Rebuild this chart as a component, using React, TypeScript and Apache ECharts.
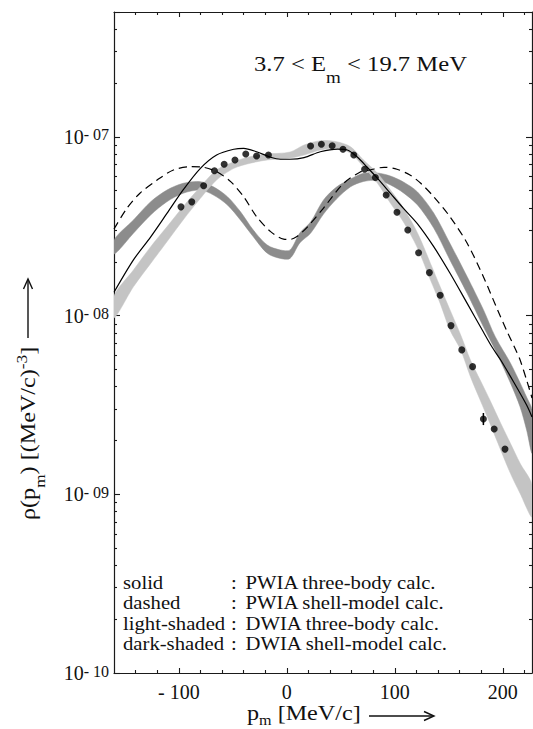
import React, { useEffect, useRef } from "react";
import * as echarts from "echarts";

const FONT = '"Liberation Serif", "Times New Roman", serif';
const INK = "#111111";

// ---- axes ----
const X_MIN = -160;
const X_MAX = 227;
const xMajorTicks = [-100, 0, 100, 200];
const xMinorTicks = [-140, -120, -80, -60, -40, -20, 20, 40, 60, 80, 120, 140, 160, 180, 220];
const Y_MIN = 1e-10;
const Y_MAX = 5e-7;
const yMinorTicks = [
  2e-10, 3e-10, 4e-10, 5e-10, 6e-10, 7e-10, 8e-10, 9e-10,
  2e-9, 3e-9, 4e-9, 5e-9, 6e-9, 7e-9, 8e-9, 9e-9,
  2e-8, 3e-8, 4e-8, 5e-8, 6e-8, 7e-8, 8e-8, 9e-8,
  2e-7, 3e-7, 4e-7,
];

// ---- measured data points ----
const dataX = [-98, -88, -77, -67, -58, -48, -38, -28, -17, 22, 32, 42, 52, 62, 72, 82, 92, 102, 112, 122, 132, 142, 152, 162, 172, 182, 192, 202];
const dataY = [4.06e-8, 4.33e-8, 5.33e-8, 6.47e-8, 7.03e-8, 7.43e-8, 8.02e-8, 7.81e-8, 7.92e-8, 8.89e-8, 9.1e-8, 8.93e-8, 8.53e-8, 7.92e-8, 6.59e-8, 5.92e-8, 4.73e-8, 3.79e-8, 3.01e-8, 2.25e-8, 1.74e-8, 1.3e-8, 8.79e-9, 6.43e-9, 5.18e-9, 2.64e-9, 2.32e-9, 1.79e-9];
const errX = [182];
const errLow = [2.44e-9];
const errHigh = [2.85e-9];

// ---- solid: PWIA three-body ----
const solidX = [-160, -142, -126, -111, -96, -80, -65, -49, -40, -28, -15, -6, 3, 16, 31, 47, 56, 65, 74, 84, 96, 108, 121, 136, 151, 167, 182, 190, 198, 210, 222, 227];
const solidY = [1.35e-8, 2.05e-8, 2.76e-8, 3.73e-8, 5.05e-8, 6.67e-8, 7.92e-8, 8.53e-8, 8.63e-8, 8.26e-8, 7.69e-8, 7.5e-8, 7.5e-8, 7.66e-8, 8.26e-8, 8.55e-8, 8.45e-8, 7.74e-8, 6.81e-8, 5.86e-8, 4.83e-8, 3.98e-8, 3.26e-8, 2.43e-8, 1.73e-8, 1.17e-8, 8.09e-9, 6.67e-9, 5.64e-9, 4.25e-9, 3.16e-9, 2.71e-9];

// ---- dashed: PWIA shell-model ----
const dashedX = [-160, -148, -136, -120, -105, -89, -77, -65, -52, -40, -28, -15, -3, 3, 9, 19, 34, 52, 68, 77, 90, 102, 114, 124, 136, 151, 167, 182, 195, 204, 212, 216, 222, 227];
const dashedY = [3.05e-8, 3.99e-8, 4.84e-8, 5.74e-8, 6.53e-8, 6.81e-8, 6.76e-8, 6.39e-8, 5.62e-8, 4.63e-8, 3.58e-8, 2.95e-8, 2.68e-8, 2.67e-8, 2.76e-8, 3.13e-8, 4.0e-8, 5.45e-8, 6.36e-8, 6.53e-8, 6.76e-8, 6.59e-8, 6.12e-8, 5.5e-8, 4.63e-8, 3.58e-8, 2.54e-8, 1.65e-8, 1.08e-8, 8.13e-9, 6.42e-9, 5.64e-9, 4.36e-9, 3.46e-9];

// ---- light-shaded band: DWIA three-body ----
const lightX = [-160, -142, -126, -111, -96, -80, -65, -49, -34, -18, 3, 16, 31, 46, 59, 71, 84, 96, 108, 121, 133, 142, 151, 161, 170, 179, 188, 198, 207, 216, 227];
const lightLow = [9.7e-9, 1.45e-8, 1.96e-8, 2.59e-8, 3.43e-8, 4.53e-8, 5.74e-8, 6.67e-8, 7.12e-8, 7.43e-8, 7.62e-8, 7.92e-8, 8.45e-8, 8.63e-8, 8.1e-8, 6.81e-8, 5.5e-8, 4.25e-8, 3.34e-8, 2.39e-8, 1.58e-8, 1.17e-8, 8.31e-9, 6.42e-9, 4.55e-9, 3.37e-9, 2.5e-9, 1.77e-9, 1.31e-9, 1.01e-9, 7.46e-10];
const lightHigh = [1.29e-8, 1.8e-8, 2.43e-8, 3.14e-8, 4.07e-8, 5.26e-8, 6.53e-8, 7.26e-8, 7.75e-8, 8.02e-8, 8.23e-8, 9.01e-8, 9.52e-8, 9.4e-8, 8.81e-8, 7.43e-8, 6.26e-8, 5.04e-8, 4.0e-8, 2.9e-8, 1.96e-8, 1.45e-8, 1.08e-8, 7.79e-9, 5.64e-9, 4.36e-9, 3.37e-9, 2.5e-9, 1.93e-9, 1.49e-9, 1.13e-9];

// ---- dark-shaded band: DWIA shell-model ----
const darkX = [-160, -142, -126, -111, -96, -80, -68, -55, -43, -31, -18, -6, 3, 12, 22, 34, 46, 59, 71, 84, 96, 108, 121, 136, 151, 167, 182, 193, 207, 216, 222, 227];
const darkLow = [2.21e-8, 2.89e-8, 3.66e-8, 4.34e-8, 4.84e-8, 5.04e-8, 4.73e-8, 4.16e-8, 3.43e-8, 2.76e-8, 2.23e-8, 2.09e-8, 2.09e-8, 2.55e-8, 2.89e-8, 3.7e-8, 4.49e-8, 5.26e-8, 5.63e-8, 5.7e-8, 5.38e-8, 4.86e-8, 4.16e-8, 3.09e-8, 2.05e-8, 1.33e-8, 8.67e-9, 6.42e-9, 4.2e-9, 3.08e-9, 2.29e-9, 1.7e-9];
const darkHigh = [2.65e-8, 3.43e-8, 4.34e-8, 5.04e-8, 5.5e-8, 5.62e-8, 5.26e-8, 4.63e-8, 3.82e-8, 3.01e-8, 2.48e-8, 2.33e-8, 2.33e-8, 2.9e-8, 3.34e-8, 4.44e-8, 5.24e-8, 5.81e-8, 6.26e-8, 6.28e-8, 6.04e-8, 5.59e-8, 4.92e-8, 3.75e-8, 2.54e-8, 1.65e-8, 1.08e-8, 7.62e-9, 5.43e-9, 4.2e-9, 3.5e-9, 2.96e-9];

// ---- texts ----
const legendKeys = ["solid", "dashed", "light-shaded", "dark-shaded"];
const legendDescs = ["PWIA three-body calc.", "PWIA shell-model calc.", "DWIA three-body calc.", "DWIA shell-model calc."];

const pairs = (xs: number[], ys: number[]) => xs.map((x, i) => [x, ys[i]]);

const lineStyle = { color: "#1a1a1a", width: 1.2 };
const tickStyle = { color: "#1a1a1a", width: 1.1 };

function xAxis(position: string, ticks: number[], len: number, showLine: boolean, labels: boolean) {
  return {
    type: "value",
    min: X_MIN,
    max: X_MAX,
    position,
    axisLine: { show: showLine, onZero: false, lineStyle },
    axisTick: { show: true, inside: true, length: len, customValues: ticks, lineStyle: tickStyle },
    axisLabel: labels
      ? {
          show: true,
          customValues: ticks,
          margin: 9,
          fontFamily: FONT,
          fontSize: 20,
          color: INK,
          formatter: (v: number) => (v < 0 ? `- ${Math.abs(v)}` : `${v}`),
        }
      : { show: false },
    splitLine: { show: false },
  };
}

function yLogAxis(position: string, labels: boolean) {
  return {
    type: "log",
    logBase: 10,
    min: Y_MIN,
    max: Y_MAX,
    position,
    axisLine: { show: true, onZero: false, lineStyle },
    axisTick: { show: true, inside: true, length: 6, lineStyle: tickStyle },
    axisLabel: labels
      ? {
          show: true,
          margin: 5,
          formatter: (v: number) => {
            const e = Math.log10(v);
            const r = Math.round(e);
            if (Math.abs(e - r) > 1e-6 || r > -7) return "";
            return `{b|10}{s|- ${String(-r).padStart(2, "0")}}`;
          },
          rich: {
            b: { fontFamily: FONT, fontSize: 20, lineHeight: 20, color: INK, padding: [7, 0, 7, 0], verticalAlign: "middle" },
            s: { fontFamily: FONT, fontSize: 16, lineHeight: 16, color: INK, verticalAlign: "top" },
          },
        }
      : { show: false },
    splitLine: { show: false },
  };
}

function yMinorAxis(position: string) {
  return {
    type: "value",
    min: Math.log10(Y_MIN),
    max: Math.log10(Y_MAX),
    position,
    axisLine: { show: false, onZero: false },
    axisTick: { show: true, inside: true, length: 3, customValues: yMinorTicks.map((v) => Math.log10(v)), lineStyle: tickStyle },
    axisLabel: { show: false },
    splitLine: { show: false },
  };
}

function band(name: string, xs: number[], lo: number[], hi: number[], color: string) {
  return {
    type: "custom",
    name,
    xAxisIndex: 0,
    yAxisIndex: 0,
    clip: true,
    silent: true,
    data: [[xs[0], lo[0]]],
    renderItem: (_params: any, api: any) => {
      const top = xs.map((x, i) => api.coord([x, hi[i]]));
      const bottom = xs.map((x, i) => api.coord([x, lo[i]])).reverse();
      return {
        type: "polygon",
        shape: { points: top.concat(bottom), smooth: 0.3 },
        style: { fill: color, stroke: color, lineWidth: 0.5 },
      };
    },
  };
}

function txt(x: number, y: number, text: string, size: number, extra: any = {}) {
  return {
    type: "text",
    x,
    y,
    scaleX: 1.15,
    style: {
      text,
      fontFamily: FONT,
      fontSize: size,
      fill: INK,
      align: "left",
      textAlign: "left",
      verticalAlign: "middle",
      textVerticalAlign: "middle",
    },
    ...extra,
  };
}

function buildOption() {
  const legendEls: any[] = [];
  legendKeys.forEach((k, i) => {
    const y = 583 + i * 20.4;
    legendEls.push(txt(123, y, k, 18));
    legendEls.push(txt(231, y, ":", 18));
    legendEls.push(txt(245.5, y, legendDescs[i], 18));
  });

  const subRich = (main: number, sub: number, subPad: number) => ({
    a: { fontFamily: FONT, fontSize: main, lineHeight: main, fill: INK, verticalAlign: "top", padding: [4, 0, 0, 0] },
    s: { fontFamily: FONT, fontSize: sub, lineHeight: sub, fill: INK, verticalAlign: "top", padding: [subPad, 0, 0, 0] },
    u: { fontFamily: FONT, fontSize: sub, lineHeight: sub, fill: INK, verticalAlign: "top" },
  });

  const graphicEls: any[] = [
    {
      type: "text",
      x: 254,
      y: 48,
      scaleX: 1.12,
      style: {
        text: "{a|3.7 < E}{s|m}{a| < 19.7 MeV}",
        rich: subRich(22, 17, 21),
        align: "left",
        textAlign: "left",
        verticalAlign: "top",
        textVerticalAlign: "top",
      },
    },
    ...legendEls,
    {
      type: "text",
      x: 247,
      y: 699,
      scaleX: 1.15,
      style: {
        text: "{a|p}{s|m}{a| [MeV/c]}",
        rich: subRich(21, 14, 14),
        align: "left",
        textAlign: "left",
        verticalAlign: "top",
        textVerticalAlign: "top",
      },
    },
    { type: "line", shape: { x1: 369, y1: 716, x2: 433, y2: 716 }, style: { stroke: INK, lineWidth: 1.4 } },
    { type: "polyline", shape: { points: [[424, 711.5], [434, 716], [424, 720.5]] }, style: { stroke: INK, lineWidth: 1.4, fill: "none" } },
    {
      type: "text",
      x: 14,
      y: 520,
      rotation: Math.PI / 2,
      scaleX: 1.15,
      style: {
        text: "{a|ρ(p}{s|m}{a|) [(MeV/c)}{u|-3}{a|]}",
        rich: subRich(21, 15, 18),
        align: "left",
        textAlign: "left",
        verticalAlign: "top",
        textVerticalAlign: "top",
      },
    },
    { type: "line", shape: { x1: 28, y1: 338, x2: 28, y2: 280 }, style: { stroke: INK, lineWidth: 1.4 } },
    { type: "polyline", shape: { points: [[23.5, 289], [28, 279], [32.5, 289]] }, style: { stroke: INK, lineWidth: 1.4, fill: "none" } },
  ];

  return {
    animation: false,
    backgroundColor: "#ffffff",
    grid: { left: 114, right: 1, top: 12, bottom: 56, containLabel: false, outerBoundsMode: "none" },
    xAxis: [
      xAxis("bottom", xMajorTicks, 5, true, true),
      xAxis("bottom", xMinorTicks, 3, false, false),
      xAxis("top", xMajorTicks, 5, true, false),
      xAxis("top", xMinorTicks, 3, false, false),
    ],
    yAxis: [yLogAxis("left", true), yMinorAxis("left"), yLogAxis("right", false), yMinorAxis("right")],
    graphic: { elements: graphicEls },
    series: [
      band("DWIA shell-model", darkX, darkLow, darkHigh, "#8c8c8c"),
      band("DWIA three-body", lightX, lightLow, lightHigh, "#c4c4c4"),
      {
        type: "line",
        name: "PWIA three-body",
        xAxisIndex: 0,
        yAxisIndex: 0,
        data: pairs(solidX, solidY),
        smooth: 0.3,
        showSymbol: false,
        silent: true,
        lineStyle: { color: "#000", width: 1.2 },
        z: 3,
      },
      {
        type: "line",
        name: "PWIA shell-model",
        xAxisIndex: 0,
        yAxisIndex: 0,
        data: pairs(dashedX, dashedY),
        smooth: 0.3,
        showSymbol: false,
        silent: true,
        lineStyle: { color: "#000", width: 1.2, type: [8, 5] },
        z: 3,
      },
      {
        type: "scatter",
        name: "data",
        xAxisIndex: 0,
        yAxisIndex: 0,
        data: pairs(dataX, dataY),
        symbol: "circle",
        symbolSize: 7,
        silent: true,
        itemStyle: { color: "#000" },
        z: 4,
      },
      {
        type: "custom",
        name: "error",
        xAxisIndex: 0,
        yAxisIndex: 0,
        silent: true,
        data: errX.map((x, i) => [x, errLow[i], errHigh[i]]),
        encode: { x: 0, y: [1, 2] },
        renderItem: (_p: any, api: any) => {
          const a = api.coord([api.value(0), api.value(1)]);
          const b = api.coord([api.value(0), api.value(2)]);
          return { type: "line", shape: { x1: a[0], y1: a[1], x2: b[0], y2: b[1] }, style: { stroke: "#000", lineWidth: 1.5 } };
        },
        z: 4,
      },
    ],
  };
}

export default function App() {
  const ref = useRef<HTMLDivElement>(null);
  useEffect(() => {
    document.body.style.margin = "0";
    const chart = echarts.init(ref.current as HTMLDivElement, null, { renderer: "svg" });
    chart.setOption(buildOption() as any);
    return () => chart.dispose();
  }, []);
  return <div ref={ref} style={{ width: 533, height: 729, background: "#fff" }} />;
}
